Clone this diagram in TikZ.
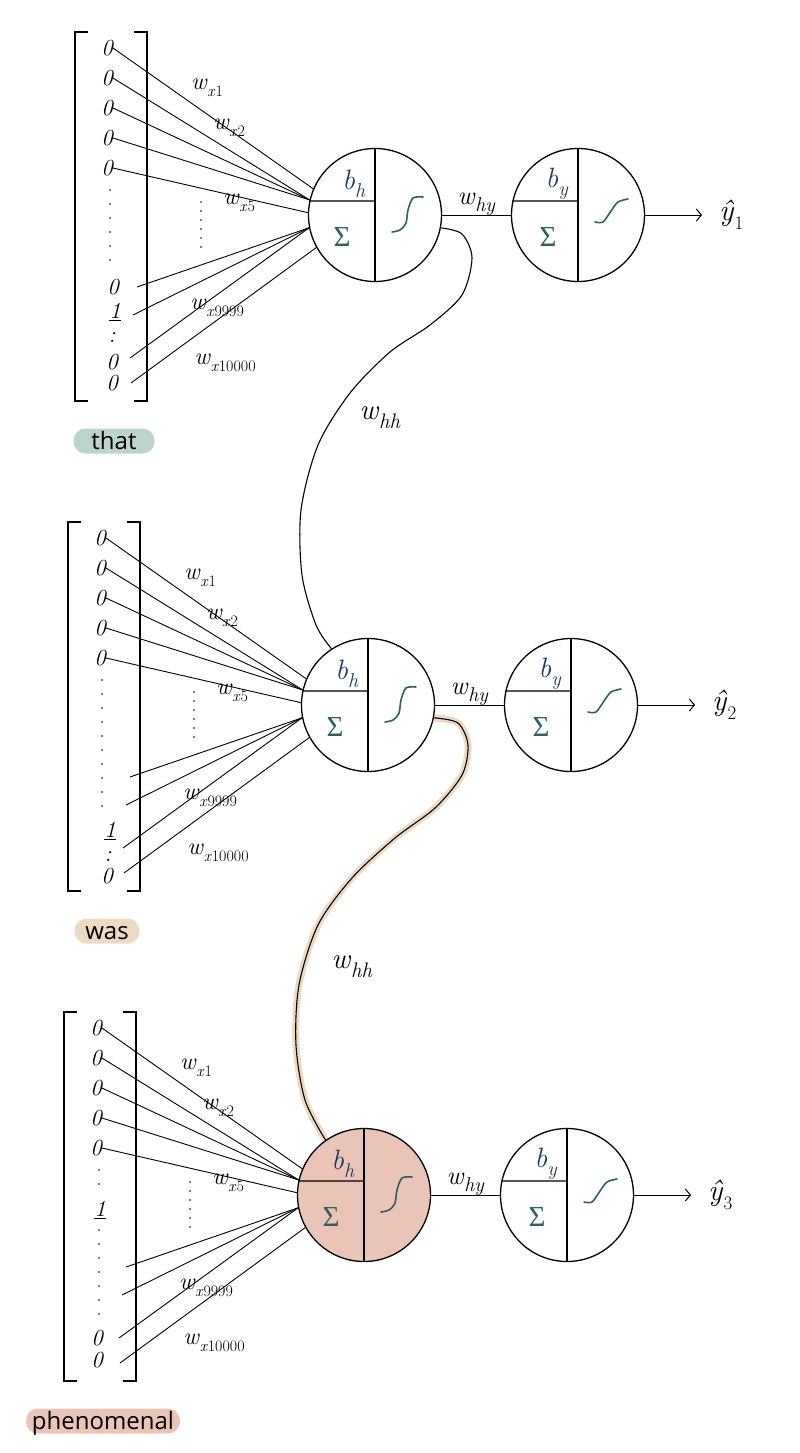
\documentclass[tikz,border=0pt]{standalone}
\usepackage{fontspec}
\usetikzlibrary{positioning,arrows.meta,backgrounds}
\newfontfamily\handfont{Open Sans}
\newfontfamily\greekfont{Liberation Serif}
\definecolor{rnnnavy}{HTML}{1B3A5C}
\definecolor{rnnteal}{HTML}{2F5F60}
\definecolor{rnnsage}{HTML}{BCD4C9}
\definecolor{rnnsand}{HTML}{ECDAC3}
\definecolor{rnnrose}{HTML}{EAC4B7}
% base letter with a lowered index
\newcommand{\withsub}[3]{#1\raisebox{-0.3em}{\fontsize{#3}{#3}\selectfont #2}}

\begin{document}
\begin{tikzpicture}[x=1pt, y=-1pt,
  neuron/.style={circle, draw, line width=1.3pt, minimum size=133pt, inner sep=0pt},
  part/.style={line width=1.3pt},
  wire/.style={line width=0.9pt},
  brkt/.style={line width=1.5pt},
  bit/.style={font=\fontsize{23}{24}\selectfont\itshape, inner sep=0pt},
  wlbl/.style={font=\fontsize{24}{24}\selectfont, inner sep=1pt},
  hlbl/.style={font=\fontsize{29}{29}\selectfont, inner sep=1pt},
  bias/.style={text=rnnnavy, font=\fontsize{28}{28}\selectfont, inner sep=1pt},
  sumsym/.style={text=rnnteal, font=\greekfont\fontsize{29}{29}\selectfont, inner sep=1pt},
  act/.style={draw=rnnteal, line width=1.6pt, line cap=round},
  pill/.style={rounded corners=12pt, minimum height=25pt, inner sep=0pt, text height=16pt, text depth=0pt, font=\handfont\fontsize{24}{24}\selectfont},
  arr/.style={line width=1pt, -{Straight Barb[length=5pt,width=12pt]}},
  dotcol/.style={line width=1.8pt, line cap=round, dash pattern=on 0pt off 14pt},
  recur/.style={line width=1.1pt}
]
\useasboundingbox (0,0) rectangle (800,1453);

% one time step per word
\foreach \i/\cx/\cy/\nfill/\word/\wcol/\wwid in {1/375/215/white/that/rnnsage/81, 2/368/705/white/was/rnnsand/65, 3/364/1195/rnnrose/phenomenal/rnnrose/154}{
\begin{scope}[shift={(\cx,\cy)}]
  % one-hot input vector
  \draw[brkt] (-287,-183) -- (-300,-183) -- (-300,186) -- (-287,186);
  \draw[brkt] (-241,-183) -- (-228,-183) -- (-228,186) -- (-241,186);
  \foreach \ey [count=\k] in {-167,-137,-107,-77,-47}
    \node[bit] (x\i-\k) at (-268,\ey) {0};

  % hidden unit
  \node[neuron, fill=\nfill] (h\i) at (0,0) {};
  \draw[part] (h\i.north) -- (h\i.south);
  \draw[part] (h\i.168) -- (0,-14);
  \node[bias] (bh\i) at (-21,-31) {\withsub{\textit{b}}{\textit{h}}{20}};
  \node[sumsym] (sh\i) at (-33,22) {Σ};
  \draw[act] plot[smooth] coordinates {(48,-18) (38,-17) (33,-5) (31,8) (25,15) (17,17)};

  % input weights
  \draw[wire] (x\i-1.east) -- (h\i.157);
  \foreach \k in {2,3,4} \draw[wire] (x\i-\k.east) -- (h\i.167);
  \draw[wire] (x\i-5.east) -- (h\i.178);
  \foreach \sx/\sy [count=\k] in {-238/72,-242/100,-245/143} {
    \coordinate (s\i-\k) at (\sx,\sy);
    \draw[wire] (s\i-\k) -- (h\i.191);
  }
  \coordinate (s\i-4) at (-244,168);
  \draw[wire] (s\i-4) -- (h\i.209);
  \foreach \lx/\ly/\lt [count=\k] in {-168/-127/1,-146/-87/2,-136/-12/5,-158/93/9999,-150/148/10000}
    \node[wlbl] (w\i-\k) at (\lx,\ly) {\withsub{\textit{w}}{\textit{x}\lt}{16}};
  \draw[dotcol, dash pattern=on 0pt off 9pt] (-174,-13) -- (-174,37);

  % output unit
  \node[neuron] (o\i) at (203,0) {};
  \draw[part] (o\i.north) -- (o\i.south);
  \draw[part] (o\i.168) -- (203,-14);
  \node[bias] (by\i) at (182,-31) {\withsub{\textit{b}}{\textit{y}}{20}};
  \node[sumsym] (so\i) at (173,22) {Σ};
  \draw[act] plot[smooth] coordinates {(220,7) (228,7) (236,-4) (243,-13) (253,-16)};
  \draw[wire] (h\i.east) -- node[hlbl, font=\fontsize{26}{26}\selectfont, anchor=base, yshift=11pt] (why\i) {\withsub{\textit{w}}{\textit{hy}}{20}} (o\i.west);
  \coordinate (yend\i) at (327,0);
  \draw[arr] (o\i.east) -- (yend\i);
  \node[right=16pt of yend\i, font=\fontsize{30}{30}\selectfont, inner sep=1pt] (yhat\i) {\withsub{\textit{ŷ}}{\i}{19}};

  % the word
  \node[pill, fill=\wcol, minimum width=\wwid pt] (word\i) at (-261,226) {\word};
\end{scope}
}

% lower part of the input vectors
\begin{scope}[shift={(375,215)}]
  \draw[dotcol] (-265,-25) -- (-265,55);
  \node[bit] (x1-6) at (-262,72) {0};
  \node[bit] (x1-7) at (-260,97) {\underline{1}};
  \node[bit] (x1-8) at (-263,123) {:};
  \node[bit] (x1-9) at (-263,147) {0};
  \node[bit] (x1-10) at (-263,168) {0};
\end{scope}
\begin{scope}[shift={(368,705)}]
  \draw[dotcol] (-266,-25) -- (-266,110);
  \node[bit] (x2-6) at (-258,126) {\underline{1}};
  \node[bit] (x2-7) at (-260,152) {:};
  \node[bit] (x2-8) at (-261,171) {0};
\end{scope}
\begin{scope}[shift={(364,1195)}]
  \draw[dotcol] (-265,-25) -- (-265,0);
  \node[bit] (x3-6) at (-264,15) {\underline{1}};
  \draw[dotcol] (-265,35) -- (-265,124);
  \node[bit] (x3-7) at (-267,143) {0};
  \node[bit] (x3-8) at (-267,165) {0};
\end{scope}

% recurrent weights
\begin{scope}[on background layer]
  \draw[recur] plot[smooth, tension=0.5] coordinates {(h1.-11) (462,234) (472,258) (462,295) (430,325) (390,352) (350,393) (318,445) (301,510) (302,575) (316,625) (h2.123)};
  \draw[recur, preaction={draw=rnnsand, line width=7pt}] plot[smooth, tension=0.5] coordinates {(h2.-11) (458,723) (468,745) (462,775) (435,808) (395,838) (352,878) (318,925) (299,985) (296,1045) (305,1100) (h3.125)};
\end{scope}
\node[hlbl] (whh1) at (380,418) {\withsub{\textit{w}}{\textit{hh}}{21}};
\node[hlbl] (whh2) at (352,967) {\withsub{\textit{w}}{\textit{hh}}{21}};
\end{tikzpicture}
\end{document}
